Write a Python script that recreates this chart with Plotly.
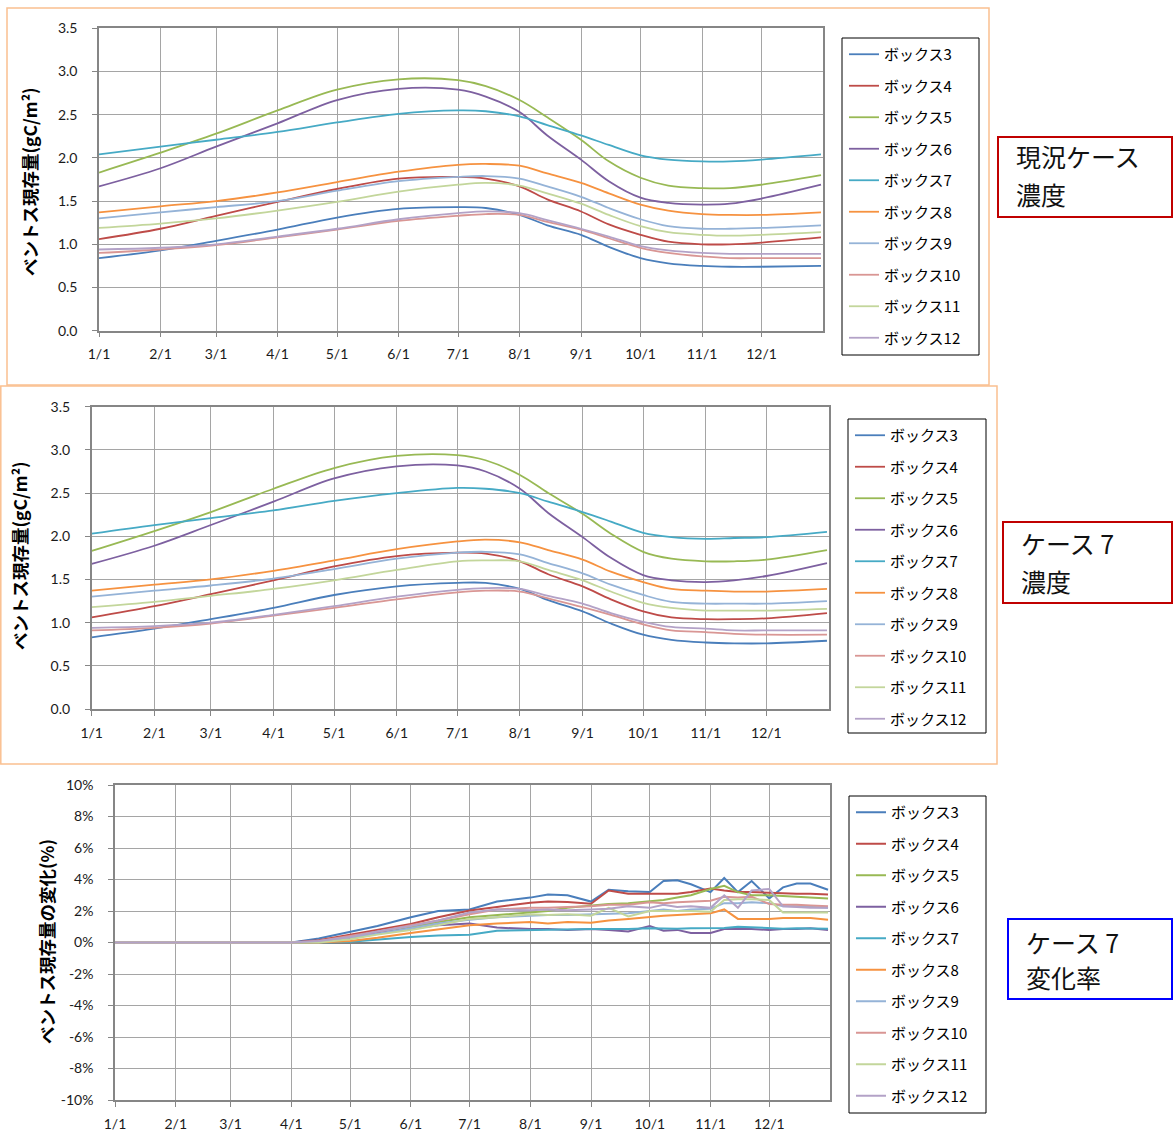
import plotly.graph_objects as go

W, H = 1173, 1133
YEAR = "2009"

names = ["ボックス3", "ボックス4", "ボックス5", "ボックス6", "ボックス7",
         "ボックス8", "ボックス9", "ボックス10", "ボックス11", "ボックス12"]
colors = ["#4A7EBB", "#BE4B48", "#98B954", "#7D60A0", "#46AAC5",
          "#F69240", "#95B3D7", "#D99694", "#C3D69B", "#B3A2C7"]

month_ticks = ["01-01", "02-01", "03-01", "04-01", "05-01", "06-01",
               "07-01", "08-01", "09-01", "10-01", "11-01", "12-01"]
month_labels = ["1/1", "2/1", "3/1", "4/1", "5/1", "6/1",
                "7/1", "8/1", "9/1", "10/1", "11/1", "12/1"]

# ---- panel 1 & 2 dates (concentration) ----
dates_c = ["01-01", "02-01", "03-01", "04-01", "05-01", "06-01", "07-01", "07-15",
           "08-01", "08-15", "09-01", "09-15", "10-01", "10-15", "11-01", "11-15",
           "12-01", "12-31"]

# 現況ケース 濃度
base_box3 = [0.84, 0.93, 1.04, 1.17, 1.31, 1.41, 1.43, 1.42, 1.34, 1.22, 1.11, 0.97, 0.84, 0.78, 0.75, 0.74, 0.74, 0.75]
base_box4 = [1.06, 1.18, 1.33, 1.49, 1.64, 1.76, 1.78, 1.76, 1.67, 1.52, 1.38, 1.23, 1.11, 1.03, 1.00, 1.00, 1.02, 1.08]
base_box5 = [1.83, 2.06, 2.28, 2.55, 2.79, 2.91, 2.90, 2.83, 2.67, 2.47, 2.21, 1.96, 1.77, 1.68, 1.65, 1.65, 1.69, 1.80]
base_box6 = [1.67, 1.88, 2.13, 2.40, 2.67, 2.80, 2.79, 2.71, 2.53, 2.26, 1.98, 1.73, 1.54, 1.48, 1.46, 1.47, 1.53, 1.69]
base_box7 = [2.04, 2.13, 2.21, 2.30, 2.41, 2.51, 2.55, 2.54, 2.48, 2.38, 2.26, 2.15, 2.03, 1.98, 1.96, 1.96, 1.98, 2.04]
base_box8 = [1.37, 1.44, 1.50, 1.60, 1.72, 1.84, 1.92, 1.93, 1.91, 1.82, 1.71, 1.59, 1.46, 1.39, 1.35, 1.34, 1.34, 1.37]
base_box9 = [1.30, 1.37, 1.43, 1.50, 1.62, 1.73, 1.78, 1.79, 1.76, 1.67, 1.55, 1.42, 1.29, 1.21, 1.18, 1.18, 1.19, 1.22]
base_box10 = [0.90, 0.94, 0.99, 1.08, 1.17, 1.27, 1.33, 1.35, 1.34, 1.26, 1.17, 1.07, 0.96, 0.90, 0.86, 0.84, 0.84, 0.84]
base_box11 = [1.19, 1.24, 1.30, 1.39, 1.49, 1.61, 1.69, 1.71, 1.68, 1.59, 1.47, 1.34, 1.21, 1.14, 1.11, 1.10, 1.11, 1.14]
base_box12 = [0.94, 0.96, 1.00, 1.09, 1.18, 1.29, 1.36, 1.38, 1.36, 1.28, 1.18, 1.09, 0.98, 0.93, 0.90, 0.89, 0.89, 0.89]

# ケース7 濃度
c7_box3 = [0.83, 0.93, 1.04, 1.17, 1.32, 1.42, 1.46, 1.46, 1.39, 1.26, 1.13, 0.99, 0.86, 0.80, 0.77, 0.76, 0.76, 0.79]
c7_box4 = [1.06, 1.19, 1.33, 1.49, 1.65, 1.77, 1.81, 1.80, 1.71, 1.56, 1.42, 1.27, 1.13, 1.06, 1.04, 1.04, 1.05, 1.11]
c7_box5 = [1.83, 2.06, 2.28, 2.55, 2.79, 2.93, 2.94, 2.88, 2.71, 2.50, 2.26, 2.03, 1.82, 1.74, 1.71, 1.71, 1.73, 1.84]
c7_box6 = [1.68, 1.89, 2.13, 2.40, 2.67, 2.81, 2.82, 2.75, 2.55, 2.27, 1.99, 1.75, 1.55, 1.49, 1.47, 1.49, 1.54, 1.69]
c7_box7 = [2.03, 2.13, 2.21, 2.30, 2.41, 2.50, 2.56, 2.55, 2.50, 2.40, 2.28, 2.17, 2.04, 1.99, 1.97, 1.98, 1.99, 2.05]
c7_box8 = [1.37, 1.44, 1.50, 1.60, 1.72, 1.85, 1.94, 1.96, 1.93, 1.84, 1.73, 1.59, 1.47, 1.39, 1.37, 1.36, 1.36, 1.39]
c7_box9 = [1.30, 1.37, 1.43, 1.51, 1.62, 1.74, 1.81, 1.82, 1.79, 1.69, 1.57, 1.44, 1.32, 1.24, 1.22, 1.22, 1.22, 1.25]
c7_box10 = [0.91, 0.94, 0.99, 1.08, 1.17, 1.27, 1.35, 1.37, 1.36, 1.28, 1.18, 1.09, 0.98, 0.91, 0.89, 0.87, 0.86, 0.86]
c7_box11 = [1.18, 1.24, 1.31, 1.39, 1.49, 1.61, 1.71, 1.72, 1.71, 1.61, 1.49, 1.36, 1.23, 1.17, 1.14, 1.14, 1.14, 1.16]
c7_box12 = [0.94, 0.96, 1.00, 1.09, 1.19, 1.30, 1.38, 1.40, 1.39, 1.31, 1.22, 1.11, 1.01, 0.95, 0.93, 0.91, 0.91, 0.91]

# ---- panel 3 (change rate %) ----
dates_r = ["01-01", "04-01", "04-15", "05-01", "05-15", "06-01", "06-15", "07-01", "07-15",
           "08-01", "08-10", "08-20", "09-01", "09-10", "09-20", "10-01", "10-08", "10-15",
           "10-22", "11-01", "11-08", "11-15", "11-22", "12-01", "12-08", "12-15", "12-22", "12-31"]
rate_box3 = [0, 0, 0.25, 0.7, 1.05, 1.6, 2.0, 2.1, 2.6, 2.85, 3.05, 3.0, 2.6, 3.35, 3.25, 3.2, 3.9, 3.95, 3.7, 3.2, 4.1, 3.2, 3.9, 2.8, 3.5, 3.75, 3.75, 3.35]
rate_box4 = [0, 0, 0.15, 0.5, 0.85, 1.18, 1.6, 2.03, 2.25, 2.53, 2.6, 2.57, 2.46, 3.3, 3.1, 3.1, 3.1, 3.1, 3.2, 3.43, 3.3, 3.2, 3.2, 3.15, 3.1, 3.1, 3.1, 3.05]
rate_box5 = [0, 0, 0.05, 0.25, 0.55, 0.95, 1.3, 1.6, 1.75, 1.9, 2.0, 2.2, 2.35, 2.45, 2.5, 2.65, 2.7, 2.85, 3.0, 3.4, 3.6, 3.2, 3.0, 3.0, 2.95, 2.9, 2.85, 2.8]
rate_box6 = [0, 0, 0.1, 0.3, 0.6, 0.9, 1.1, 1.2, 0.95, 0.85, 0.85, 0.8, 0.85, 0.8, 0.7, 1.05, 0.75, 0.8, 0.6, 0.6, 0.85, 0.85, 0.85, 0.8, 0.85, 0.85, 0.9, 0.8]
rate_box7 = [0, 0, 0, 0.05, 0.2, 0.35, 0.45, 0.5, 0.75, 0.8, 0.8, 0.82, 0.85, 0.85, 0.85, 0.9, 0.88, 0.88, 0.9, 0.92, 0.92, 1.0, 0.95, 0.92, 0.88, 0.9, 0.9, 0.88]
rate_box8 = [0, 0, 0, 0.1, 0.3, 0.6, 0.85, 1.1, 1.2, 1.3, 1.2, 1.3, 1.25, 1.4, 1.5, 1.65, 1.7, 1.75, 1.8, 1.85, 2.1, 1.5, 1.5, 1.5, 1.55, 1.55, 1.55, 1.45]
rate_box9 = [0, 0, 0.05, 0.3, 0.55, 0.9, 1.2, 1.45, 1.6, 1.7, 1.75, 1.75, 1.8, 1.85, 1.85, 2.0, 2.1, 2.0, 2.1, 2.15, 2.5, 2.5, 2.55, 2.5, 2.3, 2.3, 2.25, 2.2]
rate_box10 = [0, 0, 0.1, 0.4, 0.7, 1.1, 1.4, 1.8, 2.1, 2.2, 2.2, 2.25, 2.3, 2.4, 2.4, 2.55, 2.5, 2.55, 2.6, 2.65, 2.9, 2.85, 2.9, 2.45, 2.4, 2.4, 2.35, 2.3]
rate_box11 = [0, 0, 0, 0.2, 0.5, 0.8, 1.1, 1.5, 1.6, 1.8, 1.75, 1.8, 1.7, 2.2, 1.65, 2.0, 2.0, 2.0, 2.0, 1.95, 2.7, 2.75, 2.75, 2.7, 1.9, 1.9, 1.9, 1.9]
rate_box12 = [0, 0, 0.1, 0.35, 0.7, 1.05, 1.4, 1.9, 2.1, 2.05, 2.1, 2.05, 2.1, 2.15, 2.3, 2.2, 2.4, 2.25, 2.3, 2.2, 3.0, 2.2, 3.3, 3.4, 2.3, 2.25, 2.2, 2.2]

base_series = [base_box3, base_box4, base_box5, base_box6, base_box7,
               base_box8, base_box9, base_box10, base_box11, base_box12]
c7_series = [c7_box3, c7_box4, c7_box5, c7_box6, c7_box7,
             c7_box8, c7_box9, c7_box10, c7_box11, c7_box12]
rate_series = [rate_box3, rate_box4, rate_box5, rate_box6, rate_box7,
               rate_box8, rate_box9, rate_box10, rate_box11, rate_box12]

conc_ticks = [0.0, 0.5, 1.0, 1.5, 2.0, 2.5, 3.0, 3.5]
rate_ticks = [-10, -8, -6, -4, -2, 0, 2, 4, 6, 8, 10]

box_labels = [("現況ケース", "濃度", "#C00000"),
              ("ケース 7", "濃度", "#C00000"),
              ("ケース 7", "変化率", "#0000FF")]
ytitle_conc = "ベントス現存量(gC/m²)"
ytitle_rate = "ベントス現存量の変化(%)"


def d(s):
    return f"{YEAR}-{s}"


def px(x):
    return x / W


def py(y):
    return 1 - y / H


fig = go.Figure()

panels = [
    dict(series=base_series, dates=dates_c, xa="x", ya="y", leg="legend", shape="spline", lw=1.8),
    dict(series=c7_series, dates=dates_c, xa="x2", ya="y2", leg="legend2", shape="spline", lw=1.8),
    dict(series=rate_series, dates=dates_r, xa="x3", ya="y3", leg="legend3", shape="linear", lw=2.0),
]
for p in panels:
    for i, (nm, col, vals) in enumerate(zip(names, colors, p["series"])):
        fig.add_trace(go.Scatter(
            x=[d(s) for s in p["dates"]], y=vals, name=nm, mode="lines",
            line=dict(color=col, width=p["lw"], shape=p["shape"], smoothing=1.0),
            xaxis=p["xa"], yaxis=p["ya"], legend=p["leg"], legendgroup=p["leg"] + nm,
            hoverinfo="skip"))

TICKFONT = dict(family="Lato, 'Open Sans', sans-serif", size=14, color="#1a1a1a")
GRID = "#A5A5A5"
AXL = "#868686"

# pixel geometry: (left, right, top, bottom)
geo = [(99, 823, 28.3, 330.7), (91.7, 829, 406.7, 709), (115, 830, 785, 1100)]


def xaxis(g, anchor):
    return dict(domain=[px(g[0]), px(g[1])], anchor=anchor, type="date",
                range=[d("01-01"), "2010-01-01"], automargin=False,
                tickvals=[d(s) for s in month_ticks], ticktext=month_labels,
                showgrid=True, gridcolor=GRID, gridwidth=1,
                showline=True, linecolor=AXL, linewidth=1.5, mirror=True,
                ticks="outside", ticklen=5, tickcolor=AXL,
                tickfont=TICKFONT, ticklabelstandoff=5, fixedrange=True, zeroline=False)


def yaxis(g, anchor, rng, tickvals, ticktext):
    return dict(domain=[py(g[3]), py(g[2])], anchor=anchor, range=rng, automargin=False,
                tickvals=tickvals, ticktext=ticktext,
                showgrid=True, gridcolor=GRID, gridwidth=1,
                showline=True, linecolor=AXL, linewidth=1.5, mirror=True,
                ticks="outside", ticklen=5, tickcolor=AXL,
                tickfont=TICKFONT, ticklabelstandoff=12, fixedrange=True,
                zeroline=False)


conc_text = [f"{v:.1f}" for v in conc_ticks]
rate_text = [f"{v}%" for v in rate_ticks]

fig.update_layout(
    template="none",
    xaxis=xaxis(geo[0], "y"),
    yaxis=yaxis(geo[0], "x", [0, 3.5], conc_ticks, conc_text),
    xaxis2=xaxis(geo[1], "y2"),
    yaxis2=yaxis(geo[1], "x2", [0, 3.5], conc_ticks, conc_text),
    xaxis3=xaxis(geo[2], "y3"),
    yaxis3=yaxis(geo[2], "x3", [-10, 10], rate_ticks, rate_text),
)
fig.layout.yaxis3.zeroline = True
fig.layout.yaxis3.zerolinecolor = "#7F7F7F"
fig.layout.yaxis3.zerolinewidth = 2

legfont = dict(family="'Noto Sans CJK JP', sans-serif", size=15, color="#000")
# legend boxes: (left, right, top, bottom)
leg_box = [(842, 979, 38, 355), (848, 986, 419, 733), (849, 986, 796, 1113)]
shapes = []
for key, (lx0, lx1, ly0, ly1) in zip(["legend", "legend2", "legend3"], leg_box):
    fig.update_layout({key: dict(x=px(lx0 + 2), y=py(ly0), xanchor="left", yanchor="top",
                                 borderwidth=0, bgcolor="rgba(255,255,255,0)",
                                 font=legfont, tracegroupgap=9, itemwidth=30,
                                 traceorder="grouped")})
    shapes.append(dict(type="rect", xref="paper", yref="paper", x0=px(lx0), x1=px(lx1),
                       y0=py(ly1), y1=py(ly0), line=dict(color="#000", width=1)))

# orange frames around panels 1 and 2
shapes.append(dict(type="rect", xref="paper", yref="paper", x0=px(7), x1=px(989), y0=py(385), y1=py(8),
                   line=dict(color="#FAC090", width=1.5), layer="below"))
shapes.append(dict(type="rect", xref="paper", yref="paper", x0=px(0.8), x1=px(997), y0=py(764), y1=py(386),
                   line=dict(color="#FAC090", width=1.5), layer="below"))
# label boxes
box_geo = [(998, 1172, 137, 217, 156, 194, 1015),
           (1003, 1172, 522, 603, 543, 581, 1020),
           (1008, 1172, 919, 999, 942, 977, 1025)]
annotations = []
for (l1, l2, col), (x0, x1, y0, y1, t1, t2, tx) in zip(box_labels, box_geo):
    shapes.append(dict(type="rect", xref="paper", yref="paper", x0=px(x0), x1=px(x1), y0=py(y1), y1=py(y0),
                       line=dict(color=col, width=2)))
    for txt, ty in [(l1, t1), (l2, t2)]:
        annotations.append(dict(text=txt, xref="paper", yref="paper", x=px(tx), y=py(ty),
                                xanchor="left", yanchor="middle", showarrow=False, borderpad=0,
                                font=dict(family="'Noto Sans CJK JP', serif", size=25, color="#111")))

# y-axis titles
for txt, (cx, cy) in [(ytitle_conc, (30, 182)), (ytitle_conc, (20, 556)), (ytitle_rate, (46, 942))]:
    annotations.append(dict(text=f"<b>{txt}</b>", xref="paper", yref="paper", x=px(cx), y=py(cy),
                            xanchor="center", yanchor="middle", showarrow=False, textangle=-90,
                            font=dict(family="'Noto Sans CJK JP', sans-serif", size=17.5, color="#000")))

fig.update_layout(
    width=W, height=H, margin=dict(l=0, r=0, t=0, b=0, autoexpand=False),
    paper_bgcolor="#fff", plot_bgcolor="#fff",
    shapes=shapes, annotations=annotations, showlegend=True,
)

fig.write_html("out.html", config={"displayModeBar": False},
               post_script="document.body.style.margin='0px';document.body.style.overflow='hidden';")
